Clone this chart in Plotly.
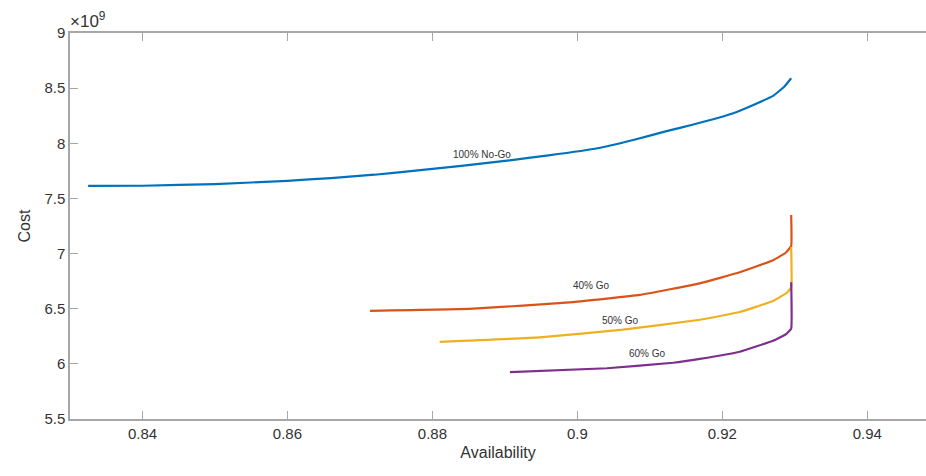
import plotly.graph_objects as go

# Data (cost in units of 1e9)
blue_x = [0.8325, 0.840, 0.850, 0.860, 0.866, 0.872, 0.878, 0.884, 0.890, 0.896, 0.9028,
          0.9077, 0.9123, 0.916, 0.9214, 0.9242, 0.9270, 0.9285, 0.9295]
blue_y = [7.613, 7.615, 7.63, 7.66, 7.685, 7.715, 7.755, 7.795, 7.84, 7.89, 7.955,
          8.03, 8.11, 8.17, 8.27, 8.345, 8.43, 8.51, 8.59]

orange_x = [0.8714, 0.8856, 0.8994, 0.9086, 0.9169, 0.9224, 0.9270, 0.9288, 0.9295, 0.9295]
orange_y = [6.48, 6.50, 6.56, 6.625, 6.73, 6.83, 6.94, 7.01, 7.07, 7.35]

yellow_x = [0.8810, 0.8948, 0.9063, 0.9169, 0.9224, 0.9270, 0.9288, 0.9295, 0.9295]
yellow_y = [6.20, 6.24, 6.31, 6.40, 6.47, 6.57, 6.64, 6.69, 7.06]

purple_x = [0.8907, 0.9041, 0.9132, 0.9169, 0.9224, 0.9270, 0.9288, 0.9295, 0.9295]
purple_y = [5.925, 5.96, 6.01, 6.045, 6.11, 6.21, 6.27, 6.32, 6.74]

labels = ["100% No-Go", "40% Go", "50% Go", "60% Go"]
label_x = [0.8868, 0.9020, 0.9059, 0.9097]
label_y = [7.90, 6.71, 6.39, 6.09]

x_ticks = [0.84, 0.86, 0.88, 0.90, 0.92, 0.94]
x_tick_text = ["0.84", "0.86", "0.88", "0.9", "0.92", "0.94"]
y_ticks = [5.5, 6, 6.5, 7, 7.5, 8, 8.5, 9]
y_tick_text = ["5.5", "6", "6.5", "7", "7.5", "8", "8.5", "9"]

colors = ["#0072BD", "#D95319", "#EDB120", "#7E2F8E"]
series = [(blue_x, blue_y), (orange_x, orange_y), (yellow_x, yellow_y), (purple_x, purple_y)]

FONT = "Liberation Sans, Arial, sans-serif"

fig = go.Figure()
for (xs, ys), c in zip(series, colors):
    fig.add_trace(go.Scatter(x=xs, y=ys, mode="lines",
                             line=dict(color=c, width=2.2, shape="spline", smoothing=0.3),
                             showlegend=False, hoverinfo="skip"))

for t, lx, ly in zip(labels, label_x, label_y):
    fig.add_annotation(x=lx, y=ly, text=t, showarrow=False,
                       font=dict(size=10, color="#333333", family=FONT))

fig.add_annotation(xref="paper", yref="paper", x=0, y=1, xanchor="left", yanchor="bottom",
                   text="×10<sup>9</sup>", showarrow=False, xshift=-2,
                   font=dict(size=17, color="#333333", family=FONT))

axis_common = dict(showgrid=False, zeroline=False, linecolor="#a6a6a6", linewidth=1.5,
                   ticks="inside", ticklen=8, tickcolor="#a6a6a6", tickwidth=1,
                   tickfont=dict(size=15, color="#333333", family=FONT))

fig.update_xaxes(range=[0.83, 0.9481], tickvals=x_ticks, ticktext=x_tick_text, mirror="ticks",
                 showline=True, title=dict(text="Availability", standoff=6,
                 font=dict(size=16, color="#333333", family=FONT)),
                 **axis_common)
fig.update_yaxes(range=[5.5, 9], tickvals=y_ticks, ticktext=y_tick_text, showline=True, mirror=False,
                 title=dict(text="Cost", standoff=10,
                 font=dict(size=16, color="#333333", family=FONT)),
                 **axis_common)

fig.update_layout(width=926, height=476, margin=dict(l=70, r=0, t=33, b=57),
                  plot_bgcolor="white", paper_bgcolor="white")

fig.write_html("out.html", config={"displayModeBar": False},
               post_script="document.body.style.margin='0';document.body.style.overflow='hidden';")
